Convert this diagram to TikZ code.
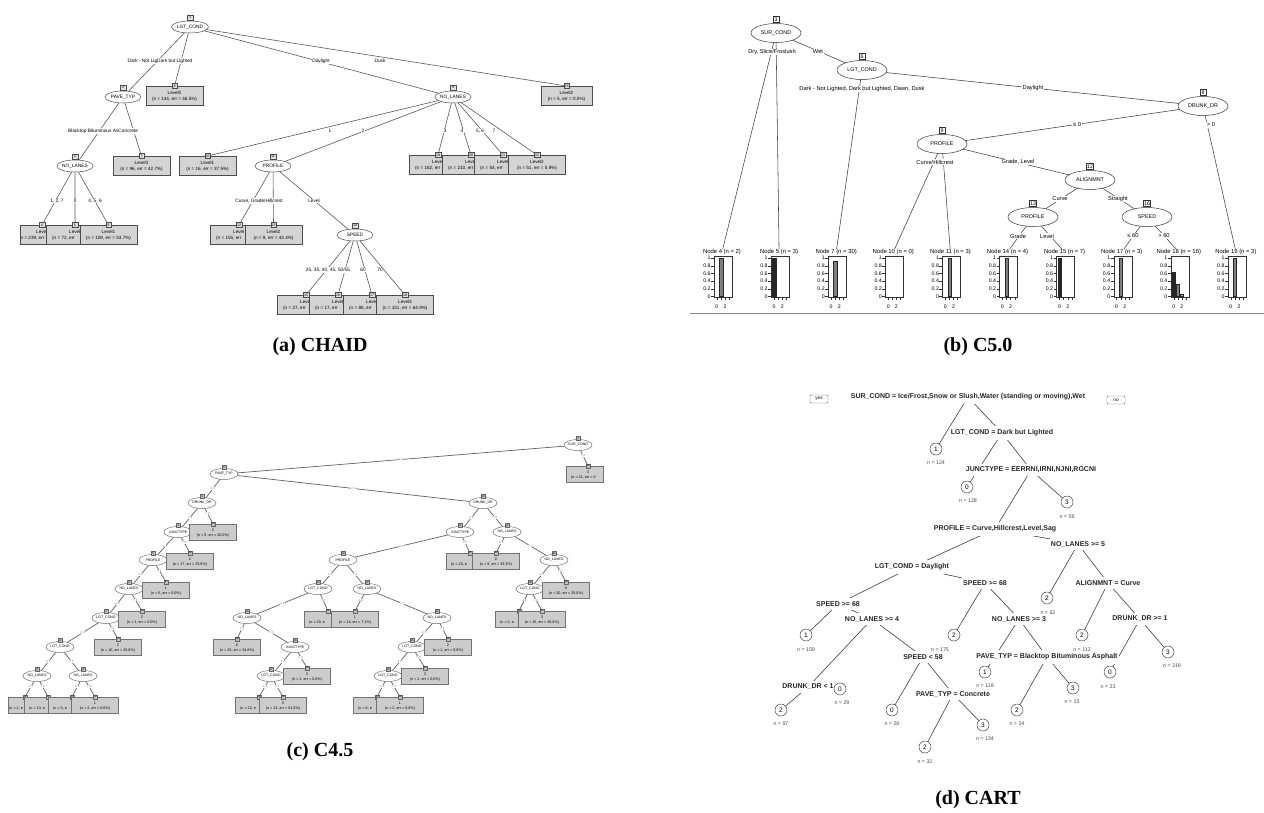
\documentclass[tikz,border=0pt]{standalone}
\usepackage{fontspec}
\setmainfont{Liberation Sans}
\newfontfamily\capfont{Liberation Serif}
\usetikzlibrary{shapes.geometric}
\pgfdeclarelayer{background}
\pgfdeclarelayer{canvas}
\pgfsetlayers{canvas,background,main}
\newcommand{\myfs}[1]{\fontsize{#1}{#1}\selectfont}
% ---------- CHAID ----------
\newcommand{\chnode}[5]{%
  \node[chell] (#1) at (#2,#3) {#4};
  \node[chidx, anchor=south] (#1i) at ([yshift=0.5pt]#1.north) {#5};}
\newcommand{\chleaf}[7]{%
  \node[chbox, minimum width=#4, anchor=north] (#1) at (#2,#3) {};
  \node[chtxt] at (#2,#3+7) {#6};
  \node[chtxt] at (#2,#3+13) {#7};
  \node[chidx] (#1i) at (#2,#3) {#5};}
\newcommand{\chleaft}[6]{%
  \node[chbox, minimum width=57pt, anchor=north] (#1) at (#2,#3) {};
  \node[chtxt, anchor=west] at (#2-6,#3+7) {#5};
  \node[chtxt, anchor=west] at (#2-23,#3+13) {#6};
  \node[chidx] (#1i) at (#2,#3) {#4};}
% ---------- C5.0 ----------
\newcommand{\cvnode}[5]{%
  \node[cvell] (#1) at (#2,#3) {#4};
  \node[cvidx, anchor=south] (#1i) at ([yshift=0.5pt]#1.north) {#5};}
\newcommand{\cframe}[3]{%
  \node[cvleaf] (#1) at (#2,252) {#3};
  \draw[black!80, line width=0.4pt] (#2-8,256) rectangle (#2+10,297);
  \foreach \tv/\tlab in {0/0,0.2/0.2,0.4/0.4,0.6/0.6,0.8/0.8,1/1} {
    \draw[black!80, line width=0.4pt] (#2-11,296.5-38.5*\tv) -- (#2-8,296.5-38.5*\tv);
    \node[cvtick, anchor=east] at (#2-11.3,296.5-38.5*\tv) {\tlab};}
  \foreach \tk in {0,1,2,3} {\draw[black!80, line width=0.4pt] (#2-5.1+4.1*\tk,297) -- (#2-5.1+4.1*\tk,300);}
  \node[cvtick] at (#2-5.1,306.5) {0};
  \node[cvtick] at (#2+3.1,306.5) {2};}
\newcommand{\cbar}[4]{%
  \filldraw[fill=#4, draw=black!85, line width=0.3pt] (#1-6.8+4.1*#2,296.5) rectangle (#1-3.4+4.1*#2,296.5-38.5*#3);}
% ---------- C4.5 ----------
\newcommand{\cfnode}[5]{%
  \node[cfell] (#1) at (#2,#3) {#4};
  \node[cfidx, anchor=south] (#1i) at ([yshift=-1.5pt]#1.north) {#5};}
\newcommand{\cfleaf}[6]{%
  \node[cfbox, anchor=north] (#1) at (#2,#3) {};
  \node[cftxt] at (#2,#3+6.5) {#5};
  \node[cftxt] at (#2,#3+11.5) {#6};
  \node[cfidx] (#1i) at (#2,#3) {#4};}
\newcommand{\cfleaft}[5]{%
  \node[cfbox, anchor=north] (#1) at (#2,#3) {};
  \node[cftxt, anchor=west] at (#2-19,#3+11.5) {#5};
  \node[cfidx] (#1i) at (#2,#3) {#4};}
% ---------- CART ----------
\newcommand{\cleaf}[6]{%
  \node[cartleaf] (#1) at (#2,#3) {#4};
  \node[cartn] (#1n) at (#5) {n = #6};}
\begin{document}
\begin{tikzpicture}[x=1pt,y=-1pt,
  chell/.style={ellipse, draw=black!70, fill=white, line width=0.5pt, minimum width=36pt, minimum height=12pt, inner sep=0pt, font=\myfs{4.8}},
  chidx/.style={draw=black!70, fill=black!12, line width=0.4pt, minimum width=5.5pt, minimum height=5pt, inner sep=0.3pt, font=\myfs{3.6}},
  chbox/.style={draw=black!70, fill=black!17, line width=0.6pt, minimum height=19pt, inner sep=0pt},
  chtxt/.style={font=\myfs{4.6}, inner sep=0pt},
  chlab/.style={fill=white, inner sep=0.5pt, font=\myfs{4.8}},
  chedge/.style={draw=black!65, line width=0.6pt},
  cvell/.style={ellipse, draw=black!80, fill=white, line width=0.5pt, minimum width=50pt, minimum height=19pt, inner sep=0pt, font=\myfs{5.4}},
  cvidx/.style={draw=black!80, fill=white, line width=0.4pt, minimum width=6pt, minimum height=6.5pt, inner sep=0.6pt, font=\myfs{5.3}},
  cvlab/.style={fill=white, inner sep=0.6pt, font=\myfs{5.7}},
  cvleaf/.style={fill=white, inner sep=0.6pt, font=\myfs{5.9}},
  cvtick/.style={inner sep=0pt, font=\myfs{5.2}},
  cvedge/.style={draw=black!75, line width=0.55pt},
  cfell/.style={ellipse, draw=black!55, fill=white, line width=0.5pt, minimum width=28pt, minimum height=11pt, inner sep=0pt, font=\myfs{3.5}},
  cfidx/.style={draw=black!60, fill=black!25, line width=0.3pt, minimum width=4.5pt, minimum height=4pt, inner sep=0.2pt, font=\myfs{2.6}},
  cfbox/.style={draw=black!55, fill=black!20, line width=0.5pt, minimum width=47pt, minimum height=16pt, inner sep=0pt},
  cftxt/.style={font=\myfs{3.7}, inner sep=0pt},
  cflab/.style={fill=white, inner sep=0.3pt, font=\myfs{3}, text=black!60},
  cfedge/.style={draw=black!62, line width=0.7pt},
  cartlab/.style={fill=white, inner xsep=1pt, inner ysep=3.5pt, font=\bfseries\myfs{7}, text=black!85},
  cartleaf/.style={circle, draw=black!75, fill=white, line width=0.5pt, minimum size=12pt, inner sep=0pt, font=\myfs{6.5}},
  cartn/.style={inner sep=0pt, font=\myfs{5.3}, text=black!70},
  cartedge/.style={draw=black!80, line width=0.55pt},
  yesno/.style={draw=black!60, fill=white, rounded corners=1pt, line width=0.4pt, minimum width=18pt, minimum height=8pt, inner sep=0.5pt, font=\myfs{4.6}},
  caption/.style={font=\capfont\bfseries\myfs{20}, inner sep=0pt}]
\useasboundingbox (0,0) rectangle (1264,812);
\begin{pgfonlayer}{canvas}
\fill[white] (0,0) rectangle (1264,812);
\end{pgfonlayer}

% =================== (a) CHAID ===================
\chnode{a1}{190}{27}{LGT\_COND}{1}
\chnode{a2}{123}{97}{PAVE\_TYP}{2}
\chnode{a3}{75}{166}{NO\_LANES}{3}
\chnode{a9}{453}{97}{NO\_LANES}{9}
\chnode{a11}{273}{166}{PROFILE}{11}
\chnode{a14}{355}{235}{SPEED}{14}

\chleaf{L8}{174.5}{86}{57pt}{8}{Level0}{(n = 144, err = 46.5\%)}
\chleaf{L23}{566.5}{86}{51pt}{23}{Level2}{(n = 5, err = 0.0\%)}
\chleaf{L7}{141.5}{156}{57pt}{7}{Level3}{(n = 96, err = 42.7\%)}
\chleaf{L10}{207.5}{156}{57pt}{10}{Level1}{(n = 16, err = 37.5\%)}
\chleaft{L19}{438}{155}{19}{Level}{(n = 162, err}
\chleaft{L20}{471}{155}{20}{Level}{(n = 210, err}
\chleaft{L21}{503}{155}{21}{Level}{(n = 54, err}
\chleaf{L22}{537}{155}{57pt}{22}{Level2}{(n = 51, err = 5.9\%)}
\node[chbox, minimum width=40pt, anchor=north west] (L4) at (20,225) {};
\node[chtxt, anchor=west] at (36,232) {Level};
\node[chtxt, anchor=west] at (20.5,238) {n = 239, err};
\node[chidx] (L4i) at (42,225) {4};
\chleaft{L5}{75}{225}{5}{Level}{(n = 72, err}
\chleaf{L6}{108.5}{225}{57pt}{6}{Level1}{(n = 108, err = 53.7\%)}
\chleaft{L12}{239}{225}{12}{Level}{(n = 155, err}
\chleaf{L13}{273.5}{225}{57pt}{13}{Level2}{(n = 9, err = 44.4\%)}
\chleaft{L15}{306}{295}{15}{Level}{(n = 27, err}
\chleaft{L16}{338}{295}{16}{Level}{(n = 17, err}
\chleaft{L17}{372}{295}{17}{Level}{(n = 86, err}
\chleaf{L18}{405}{295}{57pt}{18}{Level3}{(n = 151, err = 64.9\%)}

\begin{pgfonlayer}{background}
\path[chedge] (a1.center) -- (a2.center) (a1.center) -- (L8i.center)
  (a1.center) -- (a9.center) (a1.center) -- (L23i.center)
  (a2.center) -- (a3.center) (a2.center) -- (L7i.center)
  (a3.center) -- (L4i.center) (a3.center) -- (L5i.center) (a3.center) -- (L6i.center)
  (a9.center) -- (L10i.center) (a9.center) -- (a11.center)
  (a9.center) -- (L19i.center) (a9.center) -- (L20i.center) (a9.center) -- (L21i.center) (a9.center) -- (L22i.center)
  (a11.center) -- (L12i.center) (a11.center) -- (L13i.center) (a11.center) -- (a14.center)
  (a14.center) -- (L15i.center) (a14.center) -- (L16i.center) (a14.center) -- (L17i.center) (a14.center) -- (L18i.center);
\end{pgfonlayer}

\node[chlab] (ca1) at (160,61) {Dark - Not LigDark but Lighted};
\node[chlab] (ca2) at (321,61) {Daylight};
\node[chlab] (ca3) at (380,61) {Dusk};
\node[chlab] (ca4) at (103,131) {Blacktop Bituminous AsConcrete};
\node[chlab] (ca5) at (57,201) {1, 2, 7};
\node[chlab] (ca6) at (75,201) {3};
\node[chlab] (ca7) at (95,201) {4, 5, 6};
\node[chlab] (ca8) at (330,131) {1};
\node[chlab] (ca9) at (363,131) {2};
\node[chlab] (ca10) at (445,131) {3};
\node[chlab] (ca11) at (462,131) {4};
\node[chlab] (ca12) at (480,131) {5, 6};
\node[chlab] (ca13) at (494,131) {7};
\node[chlab] (ca14) at (259,201) {Curve, Grade/Hillcrest};
\node[chlab] (ca15) at (314,201) {Level};
\node[chlab] (ca16) at (328,270) {25, 35, 40, 45, 50/55};
\node[chlab] (ca17) at (363,270) {60};
\node[chlab] (ca18) at (380,270) {70};

\node[caption] (capa) at (320,347) {(a) CHAID};

% =================== (b) C5.0 ===================
\cvnode{b3}{776}{33}{SUR\_COND}{3}
\cvnode{b6}{862}{70}{LGT\_COND}{6}
\cvnode{b8}{1203}{106}{DRUNK\_DR}{8}
\cvnode{b9}{942}{144}{PROFILE}{9}
\cvnode{b12}{1090}{180}{ALIGNMNT}{12}
\cvnode{b13}{1033}{217}{PROFILE}{13}
\cvnode{b16}{1147}{217}{SPEED}{16}

\cframe{n4}{722}{Node 4 (n = 2)}
\cbar{722}{1}{1}{black!50}
\cframe{n5}{779.1}{Node 5 (n = 3)}
\cbar{779.1}{0}{1}{black!85}
\cframe{n7}{836.2}{Node 7 (n = 30)}
\cbar{836.2}{1}{0.93}{black!50}
\cframe{n10}{893.3}{Node 10 (n = 0)}
\cframe{n11}{950.4}{Node 11 (n = 3)}
\cbar{950.4}{1}{1}{black!50}
\cframe{n14}{1007.5}{Node 14 (n = 4)}
\cbar{1007.5}{1}{1}{black!50}
\cframe{n15}{1064.6}{Node 15 (n = 7)}
\cbar{1064.6}{0}{1}{black!85}
\cframe{n17}{1121.7}{Node 17 (n = 3)}
\cbar{1121.7}{1}{1}{black!50}
\cframe{n18}{1178.8}{Node 18 (n = 16)}
\cbar{1178.8}{0}{0.62}{black!85}
\cbar{1178.8}{1}{0.31}{black!50}
\cbar{1178.8}{2}{0.06}{black!30}
\cframe{n19}{1235.9}{Node 19 (n = 3)}
\cbar{1235.9}{1}{1}{black!50}

\begin{pgfonlayer}{background}
\path[cvedge] (b3.center) -- (n4.center) (b3.center) -- (n5.center) (b3.center) -- (b6.center)
  (b6.center) -- (n7.center) (b6.center) -- (b8.center)
  (b8.center) -- (b9.center) (b8.center) -- (n19.center)
  (b9.center) -- (n10.center) (b9.center) -- (n11.center) (b9.center) -- (b12.center)
  (b12.center) -- (b13.center) (b12.center) -- (b16.center)
  (b13.center) -- (n14.center) (b13.center) -- (n15.center)
  (b16.center) -- (n17.center) (b16.center) -- (n18.center);
\end{pgfonlayer}

\node[cvlab] (cb1) at (772,52) {Dry, Slice/Froslush};
\node[cvlab] (cb2) at (818,52) {Wet};
\node[cvlab] (cb3) at (862,89) {Dark - Not Lighted, Dark but Lighted, Dawn, Dusk};
\node[cvlab] (cb4) at (1033,88) {Daylight};
\node[cvlab] (cb5) at (1077,125) {≤ 0};
\node[cvlab] (cb6) at (1211,125) {> 0};
\node[cvlab] (cb7) at (935,162) {Curve/Hillcrest};
\node[cvlab] (cb8) at (1018,162) {Grade, Level};
\node[cvlab] (cb9) at (1060,199) {Curve};
\node[cvlab] (cb10) at (1118,199) {Straight};
\node[cvlab] (cb11) at (1018,236) {Grade};
\node[cvlab] (cb12) at (1047,236) {Level};
\node[cvlab] (cb13) at (1133,236) {≤ 60};
\node[cvlab] (cb14) at (1164,236) {> 60};

\coordinate (bl1) at (690,313);
\coordinate (bl2) at (1264,313);
\draw[black!45, line width=0.8pt] (bl1) -- (bl2);

\node[caption] (capb) at (978,347) {(b) C5.0};

% =================== (c) C4.5 ===================
\cfnode{c1}{578}{445}{SUR\_COND}{1}
\cfnode{c2}{224}{474}{PAVE\_TYP}{2}
\cfnode{c3}{202}{503}{DRUNK\_DR}{3}
\cfnode{c4}{178}{532}{JUNCTYPE}{4}
\cfnode{c5}{153}{560}{PROFILE}{5}
\cfnode{c6}{129}{589}{NO\_LANES}{6}
\cfnode{c7}{106}{618}{LGT\_COND}{7}
\cfnode{c8}{60}{647}{LGT\_COND}{8}
\cfnode{c9}{37}{676}{NO\_LANES}{9}
\cfnode{c12}{83}{676}{NO\_LANES}{12}
\cfnode{c20}{483}{503}{DRUNK\_DR}{20}
\cfnode{c21}{460}{532}{JUNCTYPE}{21}
\cfnode{c22}{343}{560}{PROFILE}{22}
\cfnode{c23}{318}{589}{LGT\_COND}{23}
\cfnode{c24}{247}{618}{NO\_LANES}{24}
\cfnode{c26}{295}{647}{JUNCTYPE}{26}
\cfnode{c27}{271}{676}{LGT\_COND}{27}
\cfnode{c32}{367}{589}{NO\_LANES}{32}
\cfnode{c34}{437}{618}{NO\_LANES}{34}
\cfnode{c35}{412}{647}{LGT\_COND}{35}
\cfnode{c36}{388}{676}{LGT\_COND}{36}
\cfnode{c42}{507}{532}{NO\_LANES}{42}
\cfnode{c44}{554}{560}{NO\_LANES}{44}
\cfnode{c45}{530}{589}{LGT\_COND}{45}

\node[cfbox, minimum width=37pt, anchor=north west] (c49) at (566,466) {};
\node[cftxt] at (588,472.5) {3};
\node[cftxt, anchor=west] at (571,477.5) {(n = 21, err = 0};
\node[cfidx] (c49i) at (588,466) {49};
\cfleaf{c19}{213}{524}{19}{2}{(n = 5, err = 20.0\%)}
\cfleaf{c18}{190}{553}{18}{2}{(n = 17, err = 23.5\%)}
\cfleaft{c41}{470}{553}{41}{(n = 20, e}
\cfleaf{c43}{496}{553}{43}{0}{(n = 9, err = 33.3\%)}
\cfleaf{c17}{166}{582}{17}{1}{(n = 5, err = 0.0\%)}
\cfleaf{c48}{566}{582}{48}{0}{(n = 20, err = 25.0\%)}
\cfleaf{c16}{142}{611}{16}{2}{(n = 1, err = 0.0\%)}
\cfleaft{c31}{328}{611}{31}{(n = 20, e}
\cfleaf{c33}{355}{611}{33}{1}{(n = 14, err = 7.1\%)}
\cfleaft{c46}{519}{611}{46}{(n = 2, e}
\cfleaf{c47}{542}{611}{47}{3}{(n = 15, err = 40.0\%)}
\cfleaf{c15}{118}{639}{15}{2}{(n = 10, err = 20.0\%)}
\cfleaf{c25}{237}{639}{25}{0}{(n = 23, err = 34.8\%)}
\cfleaf{c40}{448}{639}{40}{2}{(n = 1, err = 0.0\%)}
\cfleaf{c30}{307}{668}{30}{3}{(n = 1, err = 0.0\%)}
\cfleaf{c39}{425}{668}{39}{3}{(n = 1, err = 0.0\%)}
\node[cfbox, minimum width=40pt, anchor=north west] (c10) at (8,697) {};
\node[cftxt, anchor=west] at (9,708.5) {(n = 2, e};
\node[cfidx] (c10i) at (25,697) {10};
\cfleaft{c11}{48}{697}{11}{(n = 13, e}
\cfleaft{c13}{72}{697}{13}{(n = 3, e}
\cfleaf{c14}{95}{697}{14}{1}{(n = 2, err = 0.0\%)}
\cfleaft{c28}{259}{697}{28}{(n = 22, e}
\cfleaf{c29}{283}{697}{29}{3}{(n = 13, err = 61.5\%)}
\cfleaft{c37}{377}{697}{37}{(n = 6, e}
\cfleaf{c38}{400}{697}{38}{1}{(n = 2, err = 0.0\%)}

\begin{pgfonlayer}{background}
\path[cfedge]
  (c1.center) -- node[cflab]{≤ 2} (c2.center) (c1.center) -- node[cflab]{> 2} (c49i.center)
  (c2.center) -- node[cflab]{≤ 1} (c3.center) (c2.center) -- node[cflab]{> 1} (c20.center)
  (c3.center) -- node[cflab]{≤ 0} (c4.center) (c3.center) -- node[cflab]{> 0} (c19i.center)
  (c4.center) -- node[cflab]{≤ 2} (c5.center) (c4.center) -- node[cflab]{> 2} (c18i.center)
  (c5.center) -- node[cflab]{≤ 2} (c6.center) (c5.center) -- node[cflab]{> 2} (c17i.center)
  (c6.center) -- node[cflab]{≤ 5} (c7.center) (c6.center) -- node[cflab]{> 5} (c16i.center)
  (c7.center) -- node[cflab]{≤ 2} (c8.center) (c7.center) -- node[cflab]{> 2} (c15i.center)
  (c8.center) -- node[cflab]{≤ 1} (c9.center) (c8.center) -- node[cflab]{> 1} (c12.center)
  (c9.center) -- node[cflab]{≤ 2} (c10i.center) (c9.center) -- node[cflab]{> 2} (c11i.center)
  (c12.center) -- node[cflab]{≤ 3} (c13i.center) (c12.center) -- node[cflab]{> 3} (c14i.center)
  (c20.center) -- node[cflab]{≤ 0} (c21.center) (c20.center) -- node[cflab]{> 0} (c42.center)
  (c21.center) -- node[cflab]{≤ 2} (c22.center) (c21.center) -- node[cflab]{> 2} (c41i.center)
  (c22.center) -- node[cflab]{≤ 1} (c23.center) (c22.center) -- node[cflab]{> 1} (c32.center)
  (c23.center) -- node[cflab]{≤ 2} (c24.center) (c23.center) -- node[cflab]{> 2} (c31i.center)
  (c24.center) -- node[cflab]{≤ 3} (c25i.center) (c24.center) -- node[cflab]{> 3} (c26.center)
  (c26.center) -- node[cflab]{≤ 2} (c27.center) (c26.center) -- node[cflab]{> 2} (c30i.center)
  (c27.center) -- node[cflab]{≤ 1} (c28i.center) (c27.center) -- node[cflab]{> 1} (c29i.center)
  (c32.center) -- node[cflab]{≤ 4} (c33i.center) (c32.center) -- node[cflab]{> 4} (c34.center)
  (c34.center) -- node[cflab]{≤ 5} (c35.center) (c34.center) -- node[cflab]{> 5} (c40i.center)
  (c35.center) -- node[cflab]{≤ 2} (c36.center) (c35.center) -- node[cflab]{> 2} (c39i.center)
  (c36.center) -- node[cflab]{≤ 1} (c37i.center) (c36.center) -- node[cflab]{> 1} (c38i.center)
  (c42.center) -- node[cflab]{≤ 3} (c43i.center) (c42.center) -- node[cflab]{> 3} (c44.center)
  (c44.center) -- node[cflab]{≤ 5} (c45.center) (c44.center) -- node[cflab]{> 5} (c48i.center)
  (c45.center) -- node[cflab]{≤ 2} (c46i.center) (c45.center) -- node[cflab]{> 2} (c47i.center);
\end{pgfonlayer}

\node[caption] (capc) at (320,752) {(c) C4.5};

% =================== (d) CART ===================
\node[cartlab] (r0) at (968,397) {SUR\_COND = Ice/Frost,Snow or Slush,Water (standing or moving),Wet};
\node[yesno] (yes) at (819,399) {yes};
\node[yesno] (no) at (1116,400) {no};
\node[cartlab] (r1) at (1002,433) {LGT\_COND = Dark but Lighted};
\node[cartlab] (r2) at (1031,470) {JUNCTYPE = EERRNI,IRNI,NJNI,RGCNI};
\node[cartlab] (r3) at (995,529) {PROFILE = Curve,Hillcrest,Level,Sag};
\node[cartlab] (r4) at (1078,544) {NO\_LANES >= 5};
\node[cartlab] (r5) at (912,567) {LGT\_COND = Daylight};
\node[cartlab] (r6) at (985,583) {SPEED >= 68};
\node[cartlab] (r7) at (1108,583) {ALIGNMNT = Curve};
\node[cartlab] (r8) at (838,604) {SPEED >= 68};
\node[cartlab] (r9) at (872,619) {NO\_LANES >= 4};
\node[cartlab] (r10) at (1019,619) {NO\_LANES >= 3};
\node[cartlab] (r11) at (1140,619) {DRUNK\_DR >= 1};
\node[cartlab] (r12) at (923,657) {SPEED < 58};
\node[cartlab] (r13) at (1047,657) {PAVE\_TYP = Blacktop Bituminous Asphalt};
\node[cartlab] (r14) at (808,687) {DRUNK\_DR < 1};
\node[cartlab] (r15) at (953,694) {PAVE\_TYP = Concrete};

\cleaf{l1}{936}{449}{1}{936,463}{124}
\cleaf{l2}{967}{487}{0}{968,501}{128}
\cleaf{l3}{1067}{502}{3}{1067,517}{59}
\cleaf{l4}{1047}{598}{2}{1048,613}{62}
\cleaf{l5}{806}{635}{1}{806,650}{159}
\cleaf{l6}{954}{635}{2}{940,650}{175}
\cleaf{l7}{1082}{635}{2}{1082,650}{112}
\cleaf{l8}{1168}{652}{3}{1172,666}{319}
\cleaf{l9}{1110}{672}{0}{1108,687}{23}
\cleaf{l10}{985}{672}{1}{985,686}{118}
\cleaf{l11}{840}{689}{0}{842,703}{29}
\cleaf{l12}{1073}{688}{3}{1072,702}{15}
\cleaf{l13}{781}{710}{2}{781,724}{97}
\cleaf{l14}{892}{710}{0}{892,724}{28}
\cleaf{l15}{1017}{710}{2}{1017,724}{34}
\cleaf{l16}{983}{725}{3}{985,739}{134}
\cleaf{l17}{925}{747}{2}{925,762}{32}

\begin{pgfonlayer}{background}
\path[cartedge]
  (r0.center) -- (l1.center) (r0.center) -- (r1.center)
  (r1.center) -- (l2.center) (r1.center) -- (r2.center)
  (r2.center) -- (r3.center) (r2.center) -- (l3.center)
  (r3.center) -- (r5.center) (r3.center) -- (r4.center)
  (r4.center) -- (l4.center) (r4.center) -- (r7.center)
  (r7.center) -- (l7.center) (r7.center) -- (r11.center)
  (r11.center) -- (l9.center) (r11.center) -- (l8.center)
  (r5.center) -- (r8.center) (r5.center) -- (r6.center)
  (r8.center) -- (l5.center) (r8.center) -- (r9.center)
  (r9.center) -- (r14.center) (r9.center) -- (r12.center)
  (r14.center) -- (l13.center) (r14.center) -- (l11.center)
  (r12.center) -- (l14.center) (r12.center) -- (r15.center)
  (r15.center) -- (l17.center) (r15.center) -- (l16.center)
  (r6.center) -- (l6.center) (r6.center) -- (r10.center)
  (r10.center) -- (l10.center) (r10.center) -- (r13.center)
  (r13.center) -- (l15.center) (r13.center) -- (l12.center);
\end{pgfonlayer}

\node[caption] (capd) at (978,800) {(d) CART};
\end{tikzpicture}
\end{document}
